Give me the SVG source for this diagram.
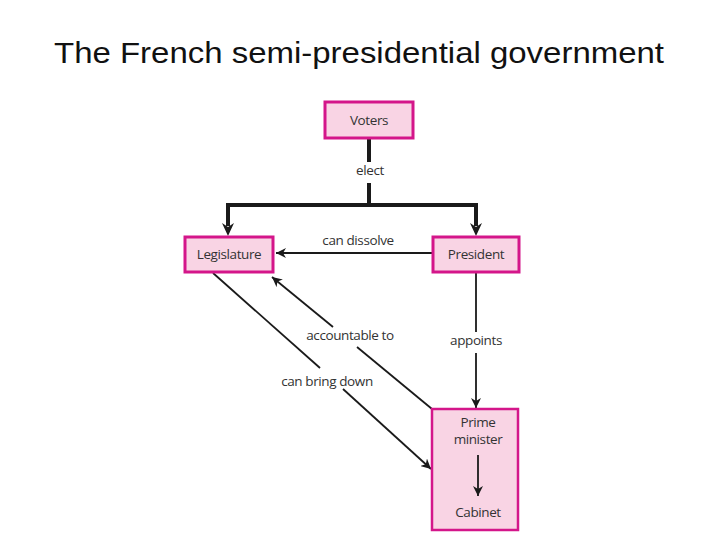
<svg xmlns="http://www.w3.org/2000/svg" width="720" height="540" viewBox="0 0 720 540">
<defs>
<marker id="ah" viewBox="0 0 10 10" refX="10" refY="5" markerWidth="10" markerHeight="10" markerUnits="userSpaceOnUse" orient="auto">
<path d="M0,0 L10,5 L0,10 L3,5 Z" fill="#1a1a1a"/>
</marker>
<style>
.box{fill:#f9d4e4;stroke:#d4168a;stroke-width:3}
.pm{fill:#f9d4e4;stroke:#d4168a;stroke-width:2.5}
.lbl{font-family:"Open Sans","Noto Sans",sans-serif;font-size:13.5px;fill:#333;text-anchor:middle;letter-spacing:-0.4px}
.thick{fill:none;stroke:#1a1a1a;stroke-width:4}
.thin{fill:none;stroke:#1a1a1a;stroke-width:1.8}
.head{fill:#1a1a1a}
</style>
</defs>
<rect width="720" height="540" fill="#fff"/>
<text x="359" y="63" font-family="'Liberation Sans',Arial,sans-serif" font-size="30" fill="#111" text-anchor="middle" textLength="610" lengthAdjust="spacingAndGlyphs">The French semi-presidential government</text>
<g id="connectors">
<path class="thick" d="M369,139 V162 M369,183 V205 M228,226 V205 H476 V226"/>
<path class="head" d="M222,223 L228,236 L234,223 L228,227 Z"/>
<path class="head" d="M470,223 L476,236 L482,223 L476,227 Z"/>
<path class="thin" d="M433,253 H276" marker-end="url(#ah)"/>
<path class="thin" d="M476,273 V332 M476,353 V408" marker-end="url(#ah)"/>
<path class="thin" d="M213,273 L320,368"/>
<path class="thin" d="M343,389 L431,469" marker-end="url(#ah)"/>
<path class="thin" d="M432,409 L357,347"/>
<path class="thin" d="M333,327 L272,277" marker-end="url(#ah)"/>
<text class="lbl" x="370" y="175">elect</text>
<text class="lbl" x="358" y="245">can dissolve</text>
<text class="lbl" x="476" y="345">appoints</text>
<text class="lbl" x="350" y="340">accountable to</text>
<text class="lbl" x="327" y="386">can bring down</text>
</g>
<g id="voters"><rect class="box" x="325" y="102" width="88" height="36"/><text class="lbl" x="369" y="125">Voters</text></g>
<g id="legislature"><rect class="box" x="185" y="237" width="88" height="35"/><text class="lbl" x="229" y="259">Legislature</text></g>
<g id="president"><rect class="box" x="433" y="237" width="86" height="35"/><text class="lbl" x="476" y="259">President</text></g>
<g id="pm"><rect class="pm" x="432" y="409" width="86" height="121"/><text class="lbl" x="478" y="427">Prime</text><text class="lbl" x="478" y="444">minister</text><path class="thin" d="M478,455 V496" marker-end="url(#ah)"/><text class="lbl" x="478" y="517">Cabinet</text></g>
</svg>
